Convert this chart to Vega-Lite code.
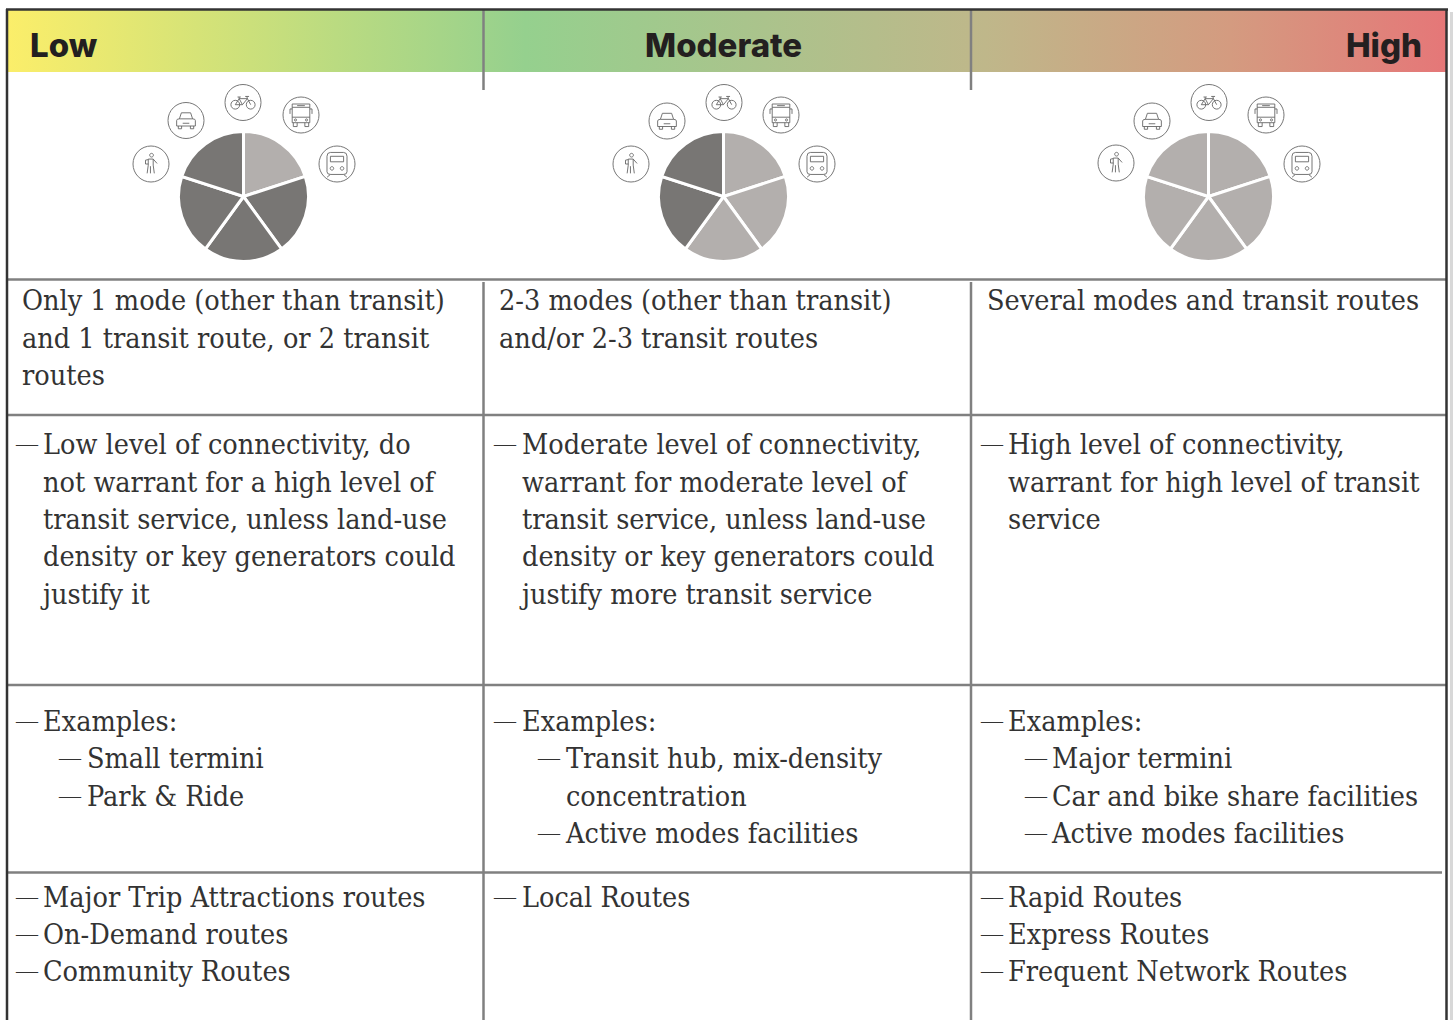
{"$schema":"https://vega.github.io/schema/vega-lite/v6.json","width":1453,"height":1020,"padding":0,"autosize":"none","background":"white","config":{"view":{"stroke":null}},
"encoding":{"x":{"field":"x","type":"quantitative","scale":{"domain":[0,1453],"nice":false,"zero":false},"axis":null},"y":{"field":"y","type":"quantitative","scale":{"domain":[1020,0],"nice":false,"zero":false},"axis":null}},
"layer":[
{"data":{"values":[{"x":8,"x2":1446,"y":10,"y2":72}]},"mark":{"type":"rect","color":{"gradient":"linear","x1":0,"y1":0,"x2":1,"y2":0,"stops":[{"offset":0,"color":"#fbee6a"},{"offset":0.36,"color":"#95d08e"},{"offset":0.68,"color":"#bfb78a"},{"offset":0.85,"color":"#d49b80"},{"offset":1,"color":"#e57778"}]}},"encoding":{"x2":{"field":"x2"},"y2":{"field":"y2"}}},
{"data":{"values":[{"x":483.5,"y":10,"y2":90},{"x":971,"y":10,"y2":90},{"x":483.5,"y":282,"y2":1020},{"x":971,"y":282,"y2":1020},{"x":8,"x2":1446,"y":279.5},{"x":8,"x2":1446,"y":415},{"x":8,"x2":1446,"y":685},{"x":8,"x2":1442,"y":872.5}]},"mark":{"type":"rule","color":"#808080","strokeWidth":2.5},"encoding":{"x2":{"field":"x2"},"y2":{"field":"y2"}}},
{"data":{"values":[{"x":7,"y":9,"y2":1020},{"x":1446.5,"y":9,"y2":1020},{"x":6,"x2":1448,"y":9.5}]},"mark":{"type":"rule","color":"#333333","strokeWidth":2.5},"encoding":{"x2":{"field":"x2"},"y2":{"field":"y2"}}},
{"data":{"values":[{"x":1451.5,"y":12,"y2":1020}]},"mark":{"type":"rule","color":"#d8d8d8","strokeWidth":3},"encoding":{"y2":{"field":"y2"}}},
{"data":{"values":[
{"x":243.5,"y":196.5,"a":0,"b":72,"tone":"light"},{"x":243.5,"y":196.5,"a":72,"b":144,"tone":"dark"},{"x":243.5,"y":196.5,"a":144,"b":216,"tone":"dark"},{"x":243.5,"y":196.5,"a":216,"b":288,"tone":"dark"},{"x":243.5,"y":196.5,"a":288,"b":360,"tone":"dark"},
{"x":723.5,"y":196.5,"a":0,"b":72,"tone":"light"},{"x":723.5,"y":196.5,"a":72,"b":144,"tone":"light"},{"x":723.5,"y":196.5,"a":144,"b":216,"tone":"light"},{"x":723.5,"y":196.5,"a":216,"b":288,"tone":"dark"},{"x":723.5,"y":196.5,"a":288,"b":360,"tone":"dark"},
{"x":1208.5,"y":196.5,"a":0,"b":72,"tone":"light"},{"x":1208.5,"y":196.5,"a":72,"b":144,"tone":"light"},{"x":1208.5,"y":196.5,"a":144,"b":216,"tone":"light"},{"x":1208.5,"y":196.5,"a":216,"b":288,"tone":"light"},{"x":1208.5,"y":196.5,"a":288,"b":360,"tone":"light"}]},
"mark":{"type":"arc","outerRadius":65,"stroke":"white","strokeWidth":3},"encoding":{"theta":{"field":"a","type":"quantitative","stack":null,"scale":{"domain":[0,360]}},"theta2":{"field":"b"},"color":{"field":"tone","type":"nominal","scale":{"domain":["light","dark"],"range":["#b3afad","#787674"]},"legend":null}}},
{"data":{"name":"icons","values":[
{"x":151,"y":164,"mode":"walk"},{"x":186,"y":120.5,"mode":"car"},{"x":243,"y":102.5,"mode":"bike"},{"x":301,"y":115,"mode":"bus"},{"x":337,"y":164,"mode":"train"},
{"x":631,"y":164,"mode":"walk"},{"x":667,"y":121,"mode":"car"},{"x":724,"y":102.5,"mode":"bike"},{"x":781,"y":115,"mode":"bus"},{"x":817,"y":164,"mode":"train"},
{"x":1116,"y":163,"mode":"walk"},{"x":1152,"y":121,"mode":"car"},{"x":1209,"y":102.5,"mode":"bike"},{"x":1266,"y":115,"mode":"bus"},{"x":1302,"y":164,"mode":"train"}]},
"layer":[
{"mark":{"type":"point","shape":"circle","size":1296,"filled":false,"stroke":"#777777","strokeWidth":1,"opacity":1}},
{"mark":{"type":"point","size":484,"filled":false,"stroke":"#666666","strokeWidth":0.9,"opacity":1},"encoding":{"shape":{"field":"mode","type":"nominal","legend":null,"scale":{"domain":["walk","car","bike","bus","train"],"range":[
"M0.22,-0.8 A0.17,0.17 0 1 1 -0.12,-0.8 A0.17,0.17 0 1 1 0.22,-0.8 M-0.25,-0.45 L0.2,-0.45 L0.55,-0.05 M-0.25,-0.45 V0.1 L-0.35,0.85 M0.2,-0.45 V0.1 L0.3,0.85 M-0.05,0.2 V0.85 M-0.25,-0.4 L-0.5,-0.35 V0 L-0.25,0",
"M-0.85,0 Q-0.85,-0.15 -0.6,-0.15 L-0.42,-0.7 H0.42 L0.6,-0.15 Q0.85,-0.15 0.85,0 V0.5 H-0.85 Z M-0.6,-0.15 H0.6 M-0.7,0.5 V0.75 H-0.4 V0.5 M0.4,0.5 V0.75 H0.7 V0.5 M-0.3,0.25 H0.3",
"M-0.3,0.2 A0.4,0.4 0 1 1 -1.1,0.2 A0.4,0.4 0 1 1 -0.3,0.2 M1.1,0.2 A0.4,0.4 0 1 1 0.3,0.2 A0.4,0.4 0 1 1 1.1,0.2 M-0.7,0.2 L-0.35,-0.35 H0.4 L0.7,0.2 M-0.35,-0.35 L-0.05,0.2 H-0.7 M-0.05,0.2 L0.4,-0.35 M0.35,-0.55 L0.4,-0.35 M0.2,-0.55 H0.55 M-0.5,-0.5 H-0.2 M-0.35,-0.5 V-0.35",
"M-0.8,-1 H0.8 V0.7 H-0.8 Z M-0.8,-0.7 H0.8 M-0.8,0.2 H0.8 M-0.35,-0.85 H0.35 M-1,-0.55 H-0.8 M0.8,-0.55 H1 M-1,-0.55 V-0.1 M1,-0.55 V-0.1 M-0.7,0.7 V1.05 H-0.35 V0.7 M0.35,0.7 V1.05 H0.7 V0.7 M-0.4,0.45 A0.1,0.1 0 1 1 -0.6,0.45 A0.1,0.1 0 1 1 -0.4,0.45 M0.6,0.45 A0.1,0.1 0 1 1 0.4,0.45 A0.1,0.1 0 1 1 0.6,0.45",
"M-0.91,-0.7 Q-0.91,-1.05 -0.6,-1.05 H0.6 Q0.91,-1.05 0.91,-0.7 V0.7 Q0.91,0.95 0.6,0.95 H-0.6 Q-0.91,0.95 -0.91,0.7 Z M-0.6,-0.7 H0.6 V-0.2 H-0.6 Z M-0.6,0.95 L-0.9,1.2 M0.6,0.95 L0.9,1.2 M-0.3,0.4 A0.16,0.16 0 1 1 -0.62,0.4 A0.16,0.16 0 1 1 -0.3,0.4 M0.62,0.4 A0.16,0.16 0 1 1 0.3,0.4 A0.16,0.16 0 1 1 0.62,0.4"
]}}}}
]},
{"data":{"values":[{"x":30,"y":57,"t":"Low"},{"x":645,"y":57,"t":"Moderate"}]},"mark":{"type":"text","font":"Inter","fontWeight":800,"fontSize":33,"align":"left","baseline":"alphabetic","color":"#231f20"},"encoding":{"text":{"field":"t"}}},
{"data":{"values":[{"x":1422,"y":57,"t":"High"}]},"mark":{"type":"text","font":"Inter","fontWeight":800,"fontSize":33,"align":"right","baseline":"alphabetic","color":"#231f20"},"encoding":{"text":{"field":"t"}}},
{"data":{"values":[
{"x":22,"y":310,"t":"Only 1 mode (other than transit)"},{"x":22,"y":348,"t":"and 1 transit route, or 2 transit"},{"x":22,"y":385,"t":"routes"},
{"x":499,"y":310,"t":"2-3 modes (other than transit)"},{"x":499,"y":348,"t":"and/or 2-3 transit routes"},
{"x":987,"y":310,"t":"Several modes and transit routes"},
{"x":43,"y":454,"t":"Low level of connectivity, do"},{"x":43,"y":492,"t":"not warrant for a high level of"},{"x":43,"y":529,"t":"transit service, unless land-use"},{"x":43,"y":566,"t":"density or key generators could"},{"x":43,"y":604,"t":"justify it"},
{"x":522,"y":454,"t":"Moderate level of connectivity,"},{"x":522,"y":492,"t":"warrant for moderate level of"},{"x":522,"y":529,"t":"transit service, unless land-use"},{"x":522,"y":566,"t":"density or key generators could"},{"x":522,"y":604,"t":"justify more transit service"},
{"x":1008,"y":454,"t":"High level of connectivity,"},{"x":1008,"y":492,"t":"warrant for high level of transit"},{"x":1008,"y":529,"t":"service"},
{"x":43,"y":731,"t":"Examples:"},{"x":87,"y":768,"t":"Small termini"},{"x":87,"y":806,"t":"Park & Ride"},
{"x":522,"y":731,"t":"Examples:"},{"x":566,"y":768,"t":"Transit hub, mix-density"},{"x":566,"y":806,"t":"concentration"},{"x":566,"y":843,"t":"Active modes facilities"},
{"x":1008,"y":731,"t":"Examples:"},{"x":1052,"y":768,"t":"Major termini"},{"x":1052,"y":806,"t":"Car and bike share facilities"},{"x":1052,"y":843,"t":"Active modes facilities"},
{"x":43,"y":907,"t":"Major Trip Attractions routes"},{"x":43,"y":944,"t":"On-Demand routes"},{"x":43,"y":981,"t":"Community Routes"},
{"x":522,"y":907,"t":"Local Routes"},
{"x":1008,"y":907,"t":"Rapid Routes"},{"x":1008,"y":944,"t":"Express Routes"},{"x":1008,"y":981,"t":"Frequent Network Routes"}]},
"mark":{"type":"text","font":"DejaVu Serif Condensed","fontSize":28.5,"align":"left","baseline":"alphabetic","color":"#333333"},"encoding":{"text":{"field":"t"}}},
{"data":{"values":[
{"x":16,"y":454},{"x":494,"y":454},{"x":981,"y":454},{"x":16,"y":731},{"x":494,"y":731},{"x":981,"y":731},
{"x":59,"y":768},{"x":59,"y":806},{"x":538,"y":768},{"x":538,"y":843},{"x":1025,"y":768},{"x":1025,"y":806},{"x":1025,"y":843},
{"x":16,"y":907},{"x":16,"y":944},{"x":16,"y":981},{"x":494,"y":907},{"x":981,"y":907},{"x":981,"y":944},{"x":981,"y":981}]},
"mark":{"type":"text","font":"Liberation Serif","fontSize":22,"dy":-3,"align":"left","baseline":"alphabetic","color":"#333333","text":"—"}}
]}
